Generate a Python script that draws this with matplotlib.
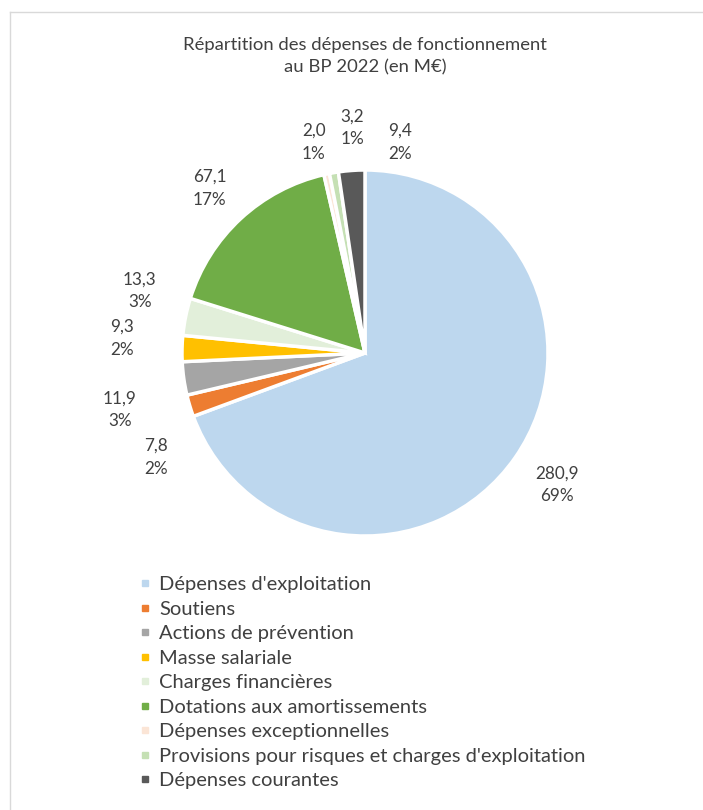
import matplotlib
matplotlib.use("Agg")
import matplotlib.pyplot as plt
from matplotlib.lines import Line2D

plt.rcParams["font.family"] = ["Lato", "DejaVu Sans"]

categories = [
    "Dépenses d'exploitation",
    "Soutiens",
    "Actions de prévention",
    "Masse salariale",
    "Charges financières",
    "Dotations aux amortissements",
    "Dépenses exceptionnelles",
    "Provisions pour risques et charges d'exploitation",
    "Dépenses courantes",
]
values = [280.9, 7.8, 11.9, 9.3, 13.3, 67.1, 2.0, 3.2, 9.4]
pct_labels = ["69%", "2%", "3%", "2%", "3%", "17%", "1%", "1%", "2%"]
colors = ["#BDD7EE", "#ED7D31", "#A5A5A5", "#FFC000", "#E2EFDA",
          "#70AD47", "#FBE5D6", "#C5E0B4", "#595959"]

# label positions (in pie radius units), like Excel's "best fit"
label_pos = [(1.05, -0.72), (-1.14, -0.57), (-1.34, -0.31), (-1.33, 0.08),
             (-1.23, 0.34), (-0.85, 0.90), (-0.28, 1.15), (-0.07, 1.23),
             (0.19, 1.15)]

fig = plt.figure(figsize=(7.03, 8.1), dpi=100)

# pie centre at (365, 353) px, radius 183 px
W, H, r = 703, 810, 183
cx, cy = 365, 353
half = 1.5 * r
ax = fig.add_axes([(cx - half) / W, (H - cy - half) / H, 2 * half / W, 2 * half / H])

wedges, _ = ax.pie(values, colors=colors, startangle=90, counterclock=False,
                   radius=1, wedgeprops=dict(edgecolor="white", linewidth=2.5))
ax.set_xlim(-1.5, 1.5)
ax.set_ylim(-1.5, 1.5)
ax.axis("off")

for v, p, (x, y) in zip(values, pct_labels, label_pos):
    txt = f"{v:.1f}".replace(".", ",") + "\n" + p
    ax.text(x, y, txt, ha="center", va="center", fontsize=12.3,
            color="#404040", linespacing=1.55)

fig.text(cx / W, 1 - 56 / H, "Répartition des dépenses de fonctionnement\nau BP 2022 (en M€)",
         ha="center", va="center", fontsize=13.3, color="#404040", linespacing=1.45)

# small square legend keys
handles = [Line2D([], [], marker="s", linestyle="none", markersize=4.4,
                  markerfacecolor=c, markeredgecolor=c) for c in colors]
fig.legend(handles, categories, loc="upper left", bbox_to_anchor=(141 / W, 1 - 576 / H),
           frameon=False, fontsize=14.5, handlelength=0.4,
           handletextpad=0.5, labelspacing=0.37, borderpad=0, borderaxespad=0,
           labelcolor="#404040")

# thin chart-area frame (only top and left visible in crop)
fig.add_artist(Line2D([10 / W, 10 / W], [0, 1 - 12 / H], color="#D9D9D9", lw=1))
fig.add_artist(Line2D([10 / W, 1], [1 - 12 / H, 1 - 12 / H], color="#D9D9D9", lw=1))

fig.savefig("out.png", dpi=100, facecolor="white")
